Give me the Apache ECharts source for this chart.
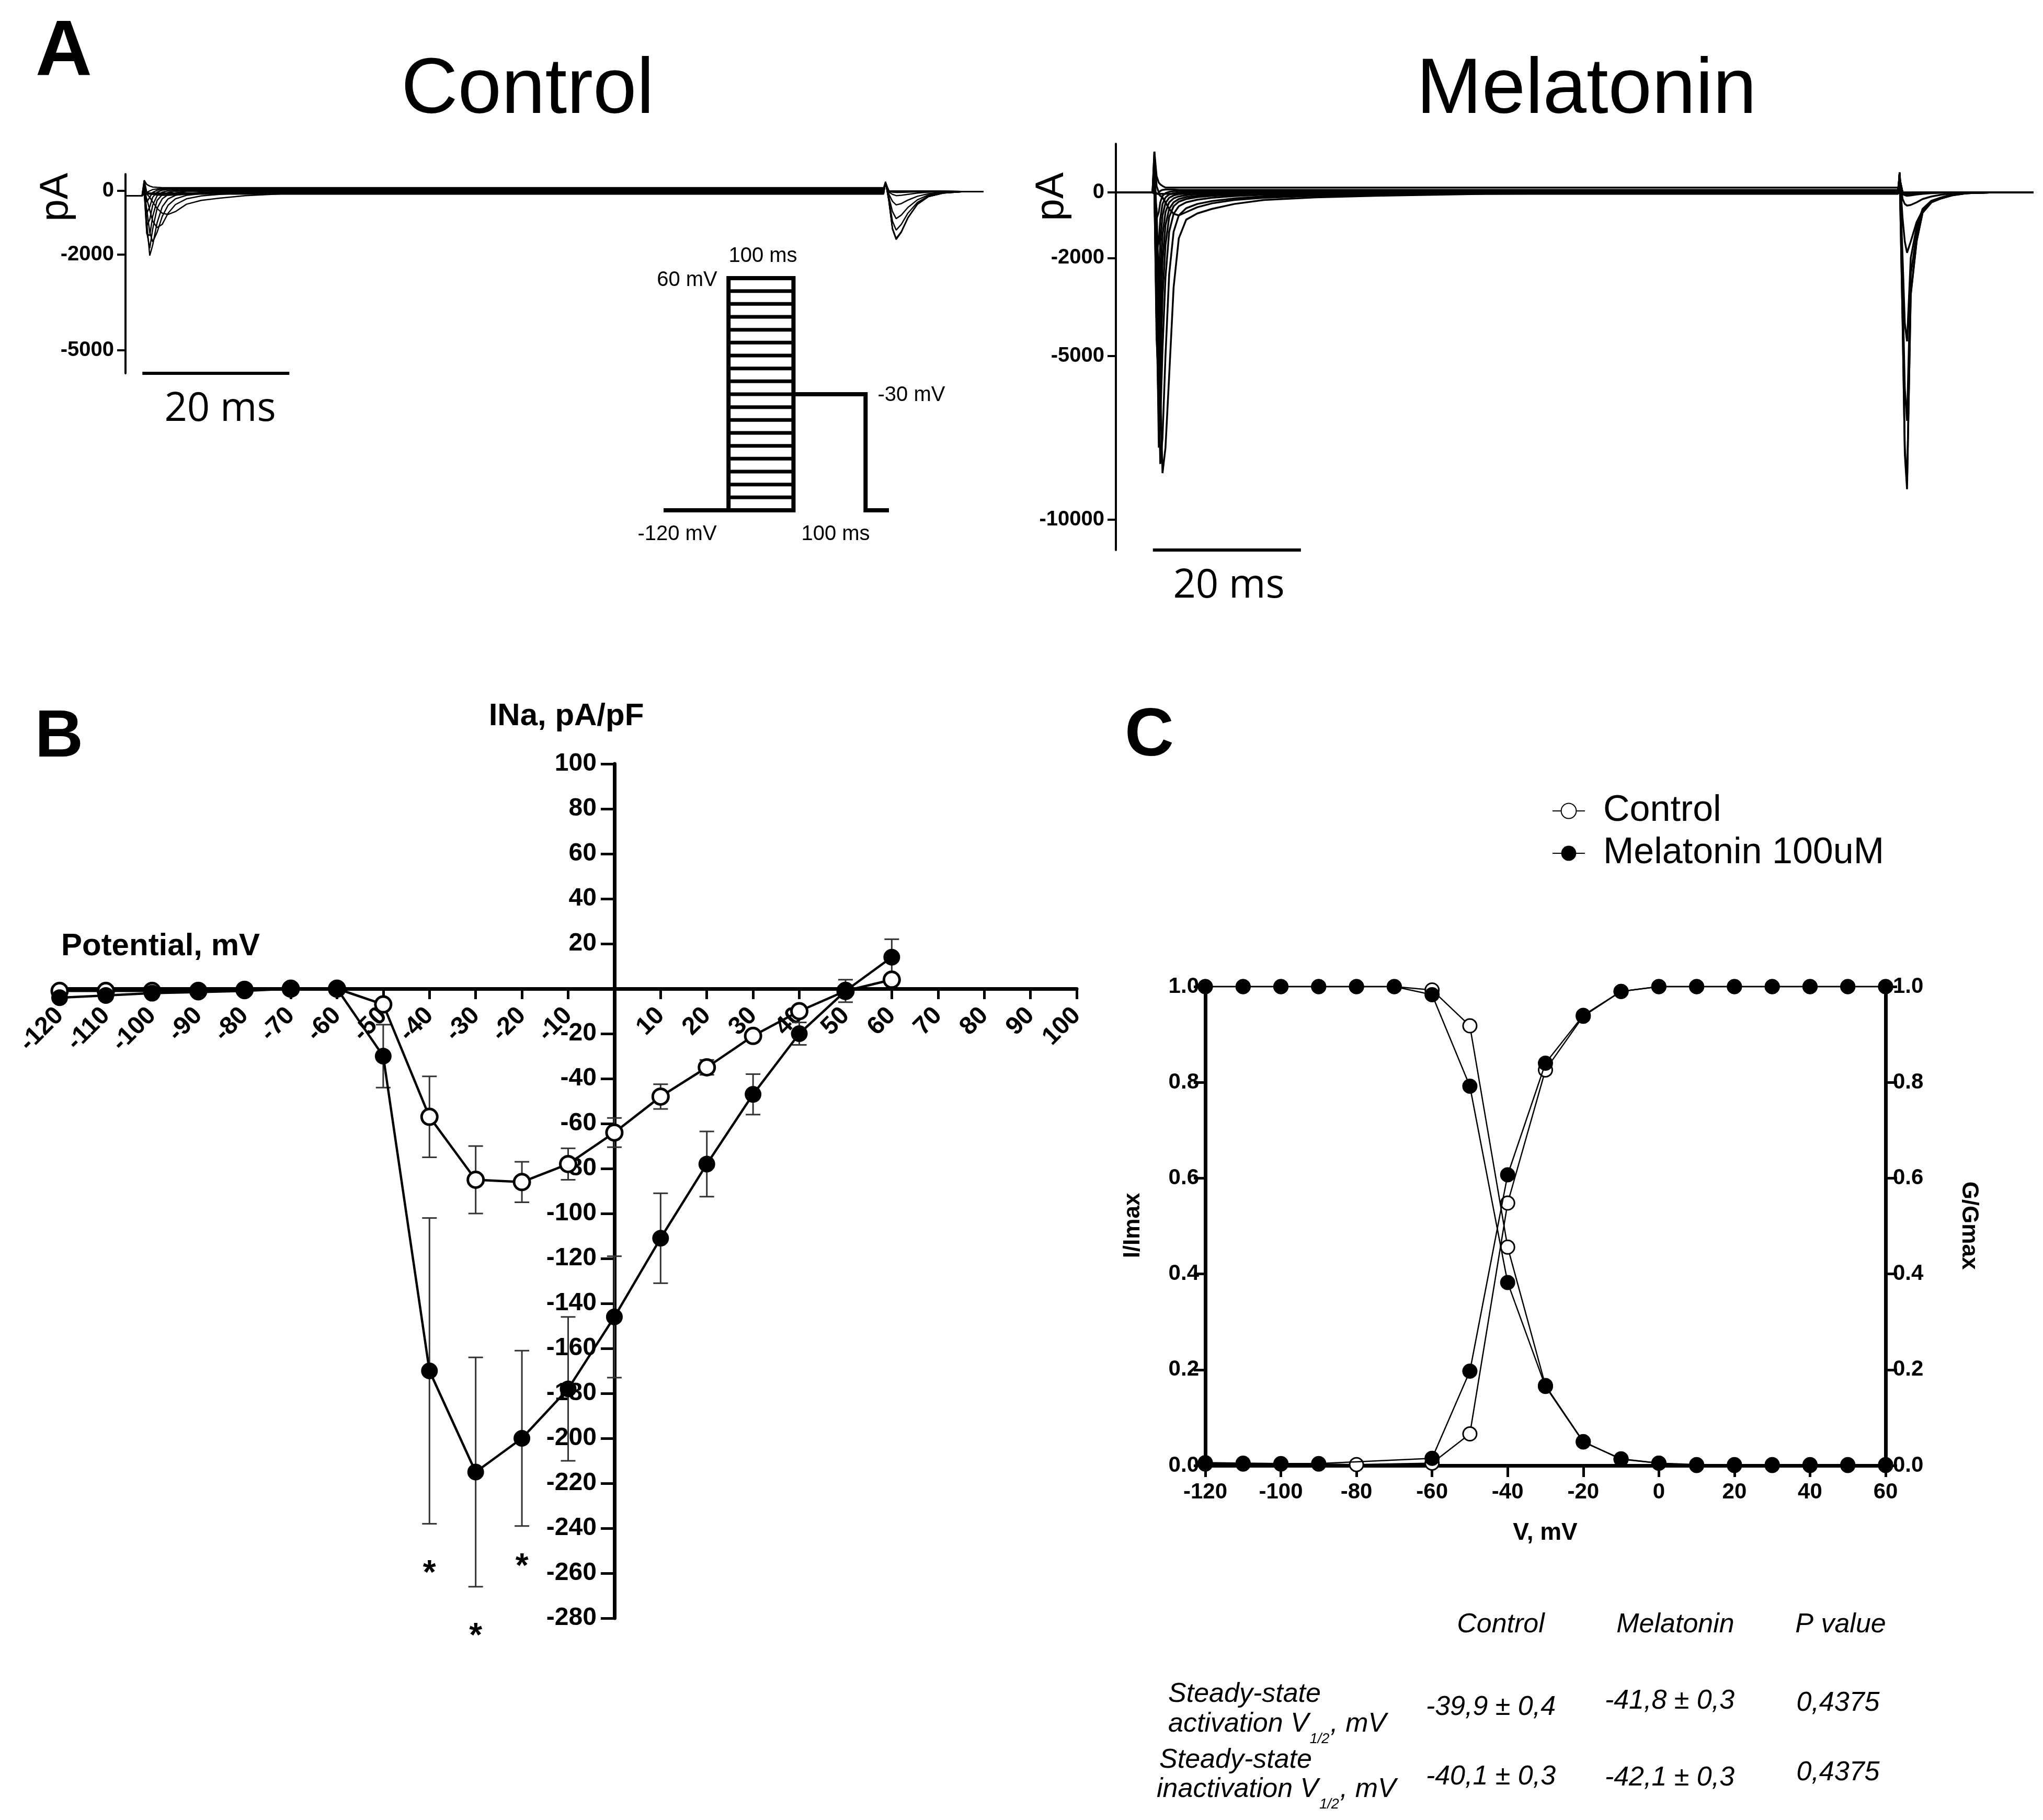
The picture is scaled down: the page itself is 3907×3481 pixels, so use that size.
<!DOCTYPE html>
<html><head><meta charset="utf-8">
<script src="https://cdn.jsdelivr.net/npm/echarts@6/dist/echarts.min.js"></script>
<style>html,body{margin:0;padding:0;background:#fff}#c{width:3907px;height:3481px}</style>
</head><body><div id="c"></div>
<script>
// ================= DATA =================
// Panel A: control current traces (pA) sampled at ctrlTime (ms)
const ctrlTime = [-2.3,-0.05,0.25,0.6,1.0,1.4,2.0,2.7,3.5,4.5,6,8,10.5,14,20,50,100.9,101.15,101.6,102.1,102.6,103.3,104.2,105.5,107,109,111.5,114.5];
const ctrlRestA = [-160,-160,-100,-100,-100,-100,-100,-100,-100,-100,-100,-100,-100,-100,-100,-100,-100,280,-300,-1200,-1525,-1300,-850,-420,-180,-70,-30,-20];
const ctrlRestB = [-160,-160,-70,-70,-70,-70,-70,-70,-70,-70,-70,-70,-70,-70,-70,-70,-70,280,-290,-1190,-1510,-1290,-845,-415,-180,-70,-30,-20];
const ctrlM60 = [-160,-160,-60,-70,-90,-110,-130,-140,-140,-130,-110,-90,-75,-65,-60,-50,-50,280,-280,-1170,-1490,-1280,-840,-410,-175,-70,-30,-20];
const ctrlM50 = [-160,-160,-60,-100,-200,-350,-550,-700,-740,-650,-420,-300,-230,-150,-80,-40,-40,280,-250,-950,-1230,-1050,-700,-360,-160,-60,-30,-20];
const ctrlM40 = [-160,-160,-60,-250,-600,-950,-1150,-1050,-700,-430,-250,-160,-110,-70,-50,-30,-30,270,-180,-650,-870,-760,-520,-280,-130,-50,-25,-20];
const ctrlM30 = [-160,-160,-50,-600,-1300,-1600,-1300,-800,-450,-250,-140,-90,-60,-40,-30,-20,-20,250,-100,-330,-440,-400,-290,-170,-90,-40,-20,-20];
const ctrlM20 = [-160,-160,-50,-1000,-2030,-1700,-1000,-500,-250,-140,-80,-50,-30,-20,-10,-10,-10,220,-40,-110,-150,-140,-110,-70,-40,-20,-20,-20];
const ctrlM10 = [-160,-160,-40,-1300,-1800,-1200,-550,-250,-120,-60,-20,-10,0,0,0,0,0,200,-20,-40,-50,-50,-40,-30,-20,-20,-20,-20];
const ctrl0 = [-160,-160,0,-1350,-1400,-800,-300,-120,-50,-10,0,10,10,10,10,10,10,200,0,-20,-20,-20,-20,-20,-20,-20,-20,-20];
const ctrlP10 = [-160,-160,100,-1100,-900,-450,-150,-40,0,20,30,30,30,30,30,30,30,200,0,-10,-10,-10,-10,-10,-10,-20,-20,-20];
const ctrlP20 = [-160,-160,200,-700,-500,-200,-40,20,40,50,50,50,50,50,50,50,50,220,0,-10,-10,-10,-10,-10,-10,-10,-20,-20];
const ctrlP30 = [-160,-160,280,-350,-200,-50,20,50,60,60,60,60,60,60,60,60,60,230,0,-10,-10,-10,-10,-10,-10,-10,-20,-20];
const ctrlP40 = [-160,-160,330,-50,0,40,60,70,80,80,80,80,80,80,80,80,80,250,0,-10,-10,-10,-10,-10,-10,-10,-20,-20];
const ctrlP60 = [-160,-160,330,200,150,120,110,100,100,100,100,100,100,100,100,100,100,280,0,-10,-10,-10,-10,-10,-10,-10,-20,-20];

// Panel A: melatonin current traces (pA) sampled at melTime (ms)
const melTime = [-5,-0.05,0.2,0.5,0.8,1.0,1.3,1.7,2.2,2.8,3.5,4.5,6,8,11,15,22,30,45,70,100.7,100.9,101.3,101.6,101.9,102.4,103.2,104,105.2,106.5,108,110,113,119];
const melRestA = [0,0,-40,-40,-40,-40,-40,-40,-40,-40,-40,-40,-40,-40,-40,-40,-40,-40,-40,-40,-40,620,-4000,-8000,-9070,-3130,-1490,-620,-300,-180,-80,-20,0,0];
const melM60 = [0,0,0,-20,-50,-100,-150,-300,-500,-650,-700,-600,-450,-330,-230,-160,-100,-60,-20,0,0,600,-3900,-7800,-8900,-3100,-1470,-610,-300,-180,-80,-20,0,0];
const melM50 = [0,0,0,-500,-3000,-6000,-8580,-7800,-5600,-2900,-1400,-830,-640,-500,-350,-230,-150,-100,-40,-10,-10,600,-3000,-6000,-6980,-2500,-1250,-560,-270,-160,-70,-20,0,0];
const melM40 = [0,0,0,-1500,-6000,-8300,-7500,-5000,-2500,-1200,-700,-480,-350,-260,-180,-120,-70,-40,-15,0,0,600,-2000,-4000,-4550,-2000,-1050,-500,-250,-150,-60,-20,0,0];
const melM30 = [0,0,50,-3000,-7800,-7000,-4800,-2600,-1200,-650,-420,-300,-220,-160,-110,-70,-40,-20,0,0,0,600,-800,-1500,-1840,-1500,-900,-550,-300,-180,-90,-20,0,0];
const melM20 = [0,0,100,-4000,-7000,-5500,-3200,-1600,-750,-420,-280,-200,-140,-100,-70,-40,-20,0,0,0,0,500,-200,-350,-400,-380,-300,-200,-120,-70,-30,0,0,0];
const melM10 = [0,0,200,-4500,-5800,-4000,-2100,-1000,-500,-300,-200,-140,-100,-70,-40,-20,0,10,20,20,20,450,-50,-80,-100,-90,-60,-40,-20,-10,0,0,0,0];
const mel0 = [0,0,400,-4000,-4200,-2600,-1300,-600,-300,-180,-120,-80,-50,-30,-10,0,20,30,30,30,30,400,-20,-40,-50,-40,-30,-20,-10,0,0,0,0,0];
const melP10 = [0,0,600,-3000,-2700,-1500,-700,-320,-160,-90,-50,-20,0,10,20,30,40,40,40,40,40,400,0,-20,-20,-20,-10,0,0,0,0,0,0,0];
const melP20 = [0,0,800,-1800,-1500,-800,-350,-150,-60,-20,0,20,30,40,50,50,50,50,50,50,50,400,0,-10,-10,-10,0,0,0,0,0,0,0,0];
const melP30 = [0,0,1000,-800,-600,-300,-100,-20,20,40,50,60,60,60,60,60,60,60,60,60,60,400,0,0,0,0,0,0,0,0,0,0,0,0];
const melP40 = [0,0,1250,200,0,50,80,90,90,90,80,80,80,80,80,80,80,80,80,80,80,400,0,0,0,0,0,0,0,0,0,0,0,0];
const melP60 = [0,0,1250,500,300,250,200,150,150,150,150,150,150,150,150,150,150,150,150,150,150,400,0,0,0,0,0,0,0,0,0,0,0,0];

const traceTicksCtrl = [0,-2000,-5000];
const traceTicksMel = [0,-2000,-5000,-10000];
const scaleBarMs = 20;

// Voltage protocol (inset)
const protoLevels = [60,50,40,30,20,10,0,-10,-20,-30,-40,-50,-60,-70,-80,-90,-100,-110,-120];
const protoTimes = [-100,0,100,211,247];   // start, step on, step off, test off, end (ms)
const protoHold = -120, protoTest = -30;

// Panel B: I-V relation (pA/pF)
const ivV = [-120,-110,-100,-90,-80,-70,-60,-50,-40,-30,-20,-10,0,10,20,30,40,50,60];
const ivCtrlMean = [-1,-1,-1,-1,-0.5,0,0,-7,-57,-85,-86,-78,-64,-48,-35,-21,-10,-1,4];
const ivCtrlSem  = [1,1,1,1,1,1,1,2,18,15,9,7,6.5,5.5,3.3,2,2,2,2];
const ivMelMean  = [-4,-3,-2,-1.5,-1,0,0,-30,-170,-215,-200,-178,-146,-111,-78,-47,-20,-1,14];
const ivMelSem   = [1,1,1,1,1,1,1,14,68,51,39,32,27,20,14.5,9,5,5,8];
const starV = [-40,-30,-20];
const starY = [-260,-288,-257];

// Panel C: steady-state activation / inactivation
const ssV = [-120,-110,-100,-90,-80,-70,-60,-50,-40,-30,-20,-10,0,10,20,30,40,50,60];
const ctrlInact = [1,1,1,1,1,1,0.993,0.918,0.456,0.167,0.05,0.013,0.005,0,0,0,0,0,0];
const melInact  = [1,1,1,1,1,1,0.983,0.792,0.382,0.165,0.049,0.014,0.005,0.002,0.002,0.002,0.002,0.002,0.002];
const ctrlAct   = [0.003,0.003,0.003,0.003,0.002,null,0.005,0.066,0.548,0.826,0.938,0.99,1,1,1,1,1,1,1];
const melAct    = [0.006,0.005,0.004,0.004,null,null,0.015,0.197,0.607,0.84,0.94,0.99,1,1,1,1,1,1,1];

// Table
const tableHead = ['Control','Melatonin','P value'];
const rowTitle = ['Steady-state','Steady-state'];
const rowName = ['activation','inactivation'];
const ctrlHalf = ['-39,9 \u00b1 0,4','-40,1 \u00b1 0,3'];
const melHalf = ['-41,8 \u00b1 0,3','-42,1 \u00b1 0,3'];
const pVals = ['0,4375','0,4375'];

// ================= FONTS =================
const FONT = '"Liberation Sans", Arial, Helvetica, sans-serif';
const mctx = document.createElement('canvas').getContext('2d');
function hasFont(n){const s='abcdefghijMW0123456789';mctx.font='72px monospace';const w0=mctx.measureText(s).width;mctx.font='72px "'+n+'", monospace';return mctx.measureText(s).width!==w0;}
const HAS_NARROW = hasFont('Liberation Sans Narrow');
const NARROW = HAS_NARROW ? '"Liberation Sans Narrow", "Liberation Sans", sans-serif' : FONT;
const nsz = s => HAS_NARROW ? s : Math.round(s*0.84);
function measure(text, size, family, style){mctx.font=(style||'normal')+' '+size+'px '+family;return mctx.measureText(text).width;}

// ================= BUILD =================
const chart = echarts.init(document.getElementById('c'), null, {renderer:'canvas', width:3907, height:3481});
const zip = (xs, ys) => xs.map((x,i)=>[x, (ys[i]===null||ys[i]===undefined)?'-':ys[i]]);

function traces(time, sweeps, xi, lw){
  return sweeps.map(s=>({type:'line', xAxisIndex:xi, yAxisIndex:xi, data:zip(time,s), symbol:'none',
    lineStyle:{color:'#000', width:lw}, silent:true, animation:false, clip:false, z:2}));
}
const ctrlSweeps=[ctrlRestA,ctrlRestB,ctrlM60,ctrlM50,ctrlM40,ctrlM30,ctrlM20,ctrlM10,ctrl0,ctrlP10,ctrlP20,ctrlP30,ctrlP40,ctrlP60];
const melSweeps=[melRestA,melM60,melM50,melM40,melM30,melM20,melM10,mel0,melP10,melP20,melP30,melP40,melP60];

const CTRL_MIN=-5720, CTRL_MAX=525, MEL_MIN=-10930, MEL_MAX=1490;

function traceY(gi,min,max,ticks){
  return {gridIndex:gi, type:'value', min, max,
    axisLine:{show:true, onZero:false, lineStyle:{color:'#000', width:4}},
    axisTick:{show:true, customValues:ticks, length:16, lineStyle:{color:'#000', width:4}},
    axisLabel:{show:true, customValues:ticks, margin:22, color:'#000', fontFamily:FONT, fontWeight:'bold', fontSize:40,
      formatter:v=>String(v)},
    splitLine:{show:false}};
}

function errBars(mean, sem, color){
  return {type:'custom', xAxisIndex:3, yAxisIndex:3, z:3, silent:true, animation:false, clip:false,
    data: ivV.map((v,i)=>[v, mean[i]-sem[i], mean[i]+sem[i]]),
    encode:{x:0, y:[1,2]},
    renderItem:(p,api)=>{
      const x=api.value(0), lo=api.value(1), hi=api.value(2);
      const a=api.coord([x,hi]), b=api.coord([x,lo]); const w=14;
      const st={stroke:color, lineWidth:3};
      return {type:'group', children:[
        {type:'line', shape:{x1:a[0],y1:a[1],x2:b[0],y2:b[1]}, style:st},
        {type:'line', shape:{x1:a[0]-w,y1:a[1],x2:a[0]+w,y2:a[1]}, style:st},
        {type:'line', shape:{x1:b[0]-w,y1:b[1],x2:b[0]+w,y2:b[1]}, style:st}]};
    }};
}

function ssLine(name, ys, yi, filled){
  return {type:'line', name, xAxisIndex:4, yAxisIndex:yi, data:zip(ssV, ys), connectNulls:true,
    symbol:'circle', symbolSize: filled?29:26,
    itemStyle: filled?{color:'#000'}:{color:'#fff', borderColor:'#000', borderWidth:3},
    lineStyle:{color:'#000', width:2.5}, z: filled?6:5, animation:false, clip:false};
}

// Panel B geometry (grid) and axis crossing at the origin
const B_LEFT=114, B_TOP=1461, B_W=1945, B_H=1634;
const B_XMIN=-120, B_XMAX=100, B_YMIN=-280, B_YMAX=100;
const zeroX = B_LEFT + (0-B_XMIN)/(B_XMAX-B_XMIN)*B_W;
const zeroY = B_TOP + (B_YMAX-0)/(B_YMAX-B_YMIN)*B_H;

// ---------- graphic texts ----------
const G=[];
function txt(x,y,text,o){
  o=o||{};
  G.push({type:'text', x, y, rotation:o.rot||0, z:100, silent:true,
    style:{text, fill:'#000', fontFamily:o.family||FONT, fontSize:o.size||40, fontWeight:o.weight||'normal',
      fontStyle:o.style||'normal', align:o.align||'center', verticalAlign:o.valign||'middle',
      textAlign:o.align||'center', textVerticalAlign:o.valign||'middle'}});
}
txt(122,102,'A',{size:150,weight:'bold'});
txt(1009,175,'Control',{size:150});
txt(3034,175,'Melatonin',{size:150});
txt(108,377,'pA',{size:76,rot:Math.PI/2});
txt(2012,376,'pA',{size:76,rot:Math.PI/2});
txt(421,783,'20 ms',{size:76,family:'"Open Sans", sans-serif'});
txt(2350,1121,'20 ms',{size:76,family:'"Open Sans", sans-serif'});
// protocol labels
txt(1459,490,'100 ms',{size:nsz(48),family:NARROW});
txt(1314,536,'60 mV',{size:nsz(48),family:NARROW});
txt(1743,756,'-30 mV',{size:nsz(48),family:NARROW});
txt(1295,1022,'-120 mV',{size:nsz(48),family:NARROW});
txt(1598,1022,'100 ms',{size:nsz(48),family:NARROW});
// panel B
txt(113,1412,'B',{size:128,weight:'bold'});
txt(1083,1370,'INa, pA/pF',{size:60,weight:'bold'});
txt(307,1810,'Potential, mV',{size:60,weight:'bold'});
// panel C
txt(2198,1409,'C',{size:130,weight:'bold'});
txt(2167,2344,'I/Imax',{size:44,weight:'bold',rot:Math.PI/2});
txt(3765,2344,'G/Gmax',{size:44,weight:'bold',rot:-Math.PI/2});
txt(2955,2932,'V, mV',{size:46,weight:'bold'});
// table
const TS = nsz(62), SUBS = nsz(32);
const tHeadX=[2870,3204,3520];
tableHead.forEach((h,i)=>txt(tHeadX[i],3108,h,{size:TS,family:NARROW,style:'italic'}));
const rowTitleXY=[[2234,3241],[2217,3367]];
const rowNameXY=[[2234,3298],[2212,3423]];
const rowValY=[[3266,3254,3258],[3399,3401,3391]];
const valX=[2851,3193,3515];
for(let r=0;r<2;r++){
  txt(rowTitleXY[r][0],rowTitleXY[r][1],rowTitle[r],{size:TS,family:NARROW,style:'italic',align:'left'});
  const main = rowName[r]+' V';
  const x0=rowNameXY[r][0], y0=rowNameXY[r][1];
  const w1=measure(main,TS,NARROW,'italic');
  txt(x0,y0,main,{size:TS,family:NARROW,style:'italic',align:'left'});
  txt(x0+w1+2,y0+28,'1/2',{size:SUBS,family:NARROW,style:'italic',align:'left'});
  const w2=measure('1/2',SUBS,NARROW,'italic');
  txt(x0+w1+w2+4,y0,', mV',{size:TS,family:NARROW,style:'italic',align:'left'});
  [ctrlHalf[r],melHalf[r],pVals[r]].forEach((t,i)=>txt(valX[i],rowValY[r][i],t,{size:TS,family:NARROW,style:'italic'}));
}

const option = {
  animation:false,
  backgroundColor:'#fff',
  graphic:G,
  legend:{data:['Control','Melatonin 100uM'], orient:'vertical', left:2968, top:1516, itemWidth:62, itemHeight:36,
    itemGap:11, selectedMode:false, padding:0,
    textStyle:{fontSize:70, fontFamily:FONT, color:'#000', lineHeight:66, padding:[0,0,0,30]}},
  grid:[
    {left:240, top:333, width:1648, height:381, containLabel:false, outerBoundsMode:'none'},
    {left:2134, top:275, width:1755, height:777, containLabel:false, outerBoundsMode:'none'},
    {left:1269, top:532, width:431, height:444, containLabel:false, outerBoundsMode:'none'},
    {left:B_LEFT, top:B_TOP, width:B_W, height:B_H, containLabel:false, outerBoundsMode:'none'},
    {left:2305, top:1887, width:1301, height:916, containLabel:false, outerBoundsMode:'none'}
  ],
  xAxis:[
    {gridIndex:0, type:'value', min:-2.3, max:115, show:false},
    {gridIndex:1, type:'value', min:-5, max:119, show:false},
    {gridIndex:2, type:'value', min:protoTimes[0], max:protoTimes[4], show:false},
    {gridIndex:3, type:'value', min:B_XMIN, max:B_XMAX, interval:10, position:'bottom', offset:-(B_TOP+B_H-zeroY),
      axisLine:{show:true, onZero:false, lineStyle:{color:'#000', width:7}},
      axisTick:{show:true, length:20, lineStyle:{color:'#000', width:5}},
      axisLabel:{show:true, rotate:45, margin:44, color:'#000', fontFamily:FONT, fontWeight:'bold', fontSize:48,
        formatter:v=>v===0?'':String(v)},
      splitLine:{show:false}},
    {gridIndex:4, type:'value', min:-120, max:60, interval:20,
      axisLine:{show:true, onZero:false, lineStyle:{color:'#000', width:7}},
      axisTick:{show:true, length:22, lineStyle:{color:'#000', width:5}},
      axisLabel:{show:true, margin:30, color:'#000', fontFamily:FONT, fontWeight:'bold', fontSize:42},
      splitLine:{show:false}}
  ],
  yAxis:[
    traceY(0,CTRL_MIN,CTRL_MAX,traceTicksCtrl),
    traceY(1,MEL_MIN,MEL_MAX,traceTicksMel),
    {gridIndex:2, type:'value', min:protoHold, max:60, show:false},
    {gridIndex:3, type:'value', min:B_YMIN, max:B_YMAX, interval:20, position:'left', offset:-(zeroX-B_LEFT),
      axisLine:{show:true, onZero:false, lineStyle:{color:'#000', width:7}},
      axisTick:{show:true, length:26, lineStyle:{color:'#000', width:5}},
      axisLabel:{show:true, margin:34, color:'#000', fontFamily:FONT, fontWeight:'bold', fontSize:48,
        formatter:v=>v===0?'':String(v)},
      splitLine:{show:false}},
    {gridIndex:4, type:'value', min:0, max:1, interval:0.2, position:'left',
      axisLine:{show:true, onZero:false, lineStyle:{color:'#000', width:7}},
      axisTick:{show:true, length:22, lineStyle:{color:'#000', width:5}},
      axisLabel:{show:true, margin:12, color:'#000', fontFamily:FONT, fontWeight:'bold', fontSize:42, formatter:v=>v.toFixed(1)},
      splitLine:{show:false}},
    {gridIndex:4, type:'value', min:0, max:1, interval:0.2, position:'right',
      axisLine:{show:true, onZero:false, lineStyle:{color:'#000', width:7}},
      axisTick:{show:true, length:22, lineStyle:{color:'#000', width:5}},
      axisLabel:{show:true, margin:14, color:'#000', fontFamily:FONT, fontWeight:'bold', fontSize:42, formatter:v=>v.toFixed(1)},
      splitLine:{show:false}}
  ],
  series:[
    ...traces(ctrlTime, ctrlSweeps, 0, 2.5),
    ...traces(melTime, melSweeps, 1, 3.5),
    {type:'line', xAxisIndex:0, yAxisIndex:0, data:[[0,CTRL_MIN],[scaleBarMs,CTRL_MIN]], symbol:'none', clip:false,
      lineStyle:{color:'#000', width:6}, silent:true},
    {type:'line', xAxisIndex:1, yAxisIndex:1, data:[[0,MEL_MIN],[scaleBarMs,MEL_MIN]], symbol:'none', clip:false,
      lineStyle:{color:'#000', width:6}, silent:true},
    // protocol
    {type:'custom', xAxisIndex:2, yAxisIndex:2, clip:false, silent:true, data:protoLevels.map(v=>[protoTimes[1],v]),
      renderItem:(p,api)=>{const v=api.value(1); const a=api.coord([protoTimes[1],v]), b=api.coord([protoTimes[2],v]);
        return {type:'line', shape:{x1:a[0],y1:a[1],x2:b[0],y2:b[1]}, style:{stroke:'#000', lineWidth:7}};}},
    {type:'line', xAxisIndex:2, yAxisIndex:2, symbol:'none', clip:false, silent:true,
      data:[[protoTimes[0],protoHold],[protoTimes[1],protoHold],[protoTimes[1],protoLevels[0]],[protoTimes[2],protoLevels[0]],[protoTimes[2],protoHold],[protoTimes[1],protoHold]],
      lineStyle:{color:'#000', width:8, join:'miter'}},
    {type:'line', xAxisIndex:2, yAxisIndex:2, symbol:'none', clip:false, silent:true,
      data:[[protoTimes[2],protoTest],[protoTimes[3],protoTest],[protoTimes[3],protoHold],[protoTimes[4],protoHold]],
      lineStyle:{color:'#000', width:8, join:'miter'}},
    // panel B
    errBars(ivCtrlMean, ivCtrlSem, '#333'),
    errBars(ivMelMean, ivMelSem, '#333'),
    {type:'line', xAxisIndex:3, yAxisIndex:3, data:zip(ivV, ivCtrlMean), symbol:'circle', symbolSize:30, z:4,
      itemStyle:{color:'#fff', borderColor:'#000', borderWidth:5}, lineStyle:{color:'#000', width:4.5}, clip:false},
    {type:'line', xAxisIndex:3, yAxisIndex:3, data:zip(ivV, ivMelMean), symbol:'circle', symbolSize:32, z:5,
      itemStyle:{color:'#000'}, lineStyle:{color:'#000', width:4.5}, clip:false},
    {type:'custom', xAxisIndex:3, yAxisIndex:3, data:zip(starV, starY), z:6, clip:false, silent:true,
      renderItem:(p,api)=>{const c=api.coord([api.value(0),api.value(1)]);
        return {type:'text', x:c[0], y:c[1]+2, style:{text:'*', fill:'#000', fontFamily:FONT, fontWeight:'bold', fontSize:64,
          align:'center', verticalAlign:'middle'}};}},
    // panel C
    ssLine('Control', ctrlInact, 4, false),
    ssLine('Control', ctrlAct, 5, false),
    ssLine('Melatonin 100uM', melInact, 4, true),
    ssLine('Melatonin 100uM', melAct, 5, true)
  ]
};
chart.setOption(option);
</script>
</body></html>
